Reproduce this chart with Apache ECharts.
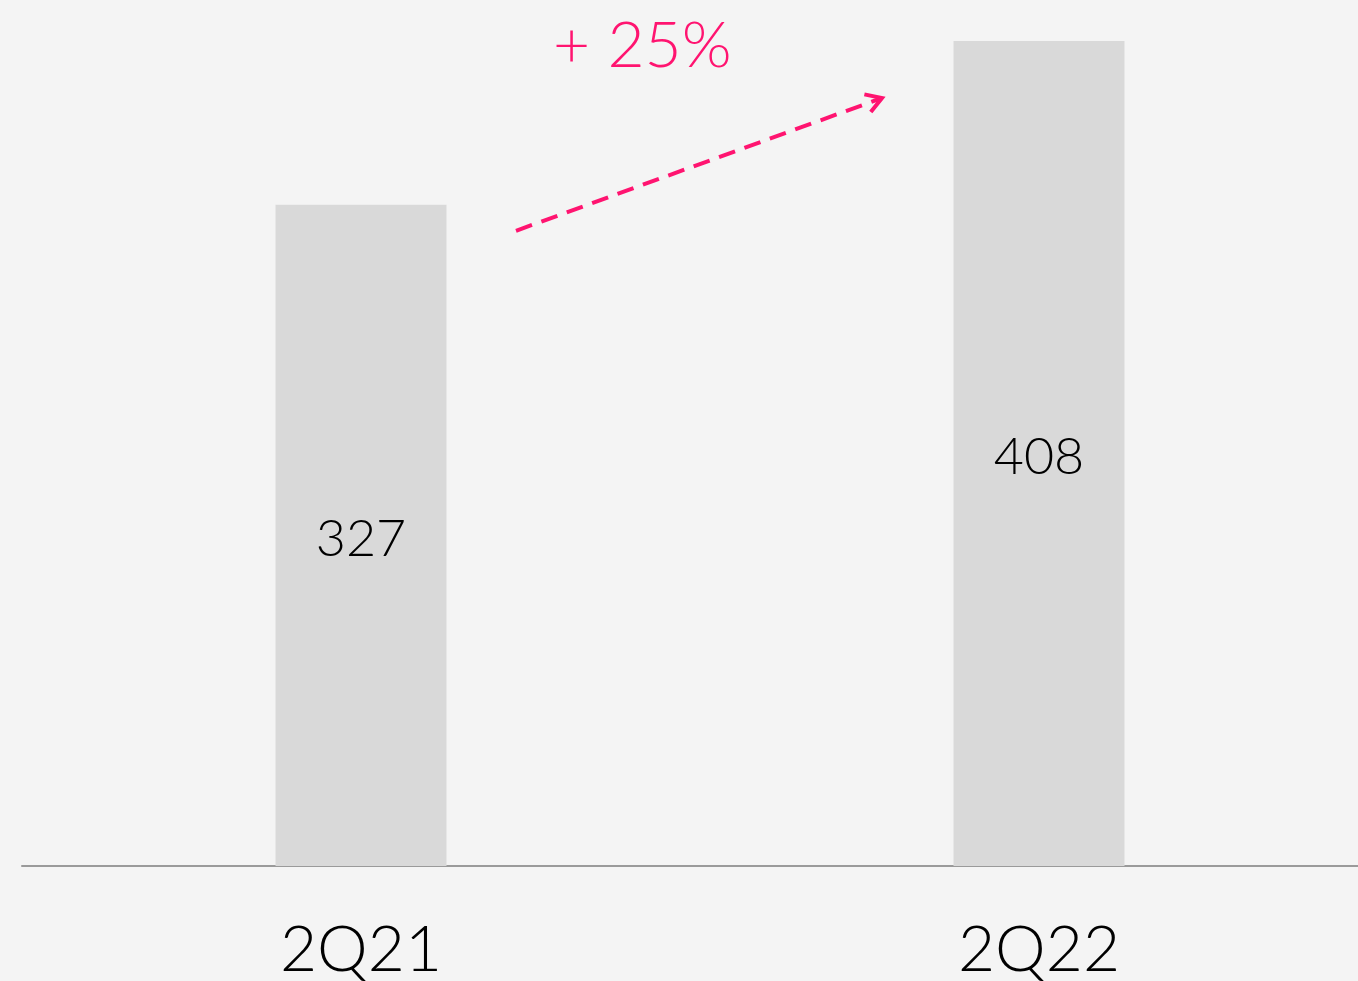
<!DOCTYPE html>
<html>
<head>
<meta charset="utf-8">
<script src="https://cdn.jsdelivr.net/npm/echarts@6/dist/echarts.min.js"></script>
<style>
  html, body { margin: 0; padding: 0; background: #f4f4f4; }
  #chart { width: 1358px; height: 981px; }
</style>
</head>
<body>
<div id="chart"></div>
<script>
// data
var quarters = ['2Q21', '2Q22']
var revenue = [327, 408]
var growthLabel = '+ 25%'

var pink = '#ff1470'

var chart = echarts.init(document.getElementById('chart'))

var option = {
  backgroundColor: '#f4f4f4',
  animation: false,
  grid: {
    left: 22,
    width: 1356,
    top: 41,
    bottom: 115,
    outerBoundsMode: 'none',
    containLabel: false
  },
  xAxis: {
    type: 'category',
    data: quarters,
    axisLine: { lineStyle: { color: '#9a9a9a', width: 2 } },
    axisTick: { show: false },
    axisLabel: {
      color: '#000',
      fontFamily: 'Lato',
      fontWeight: 300,
      fontSize: 64,
      margin: 52
    }
  },
  yAxis: {
    type: 'value',
    min: 0,
    max: 408,
    show: false,
    splitLine: { show: false }
  },
  series: [
    {
      type: 'bar',
      data: revenue,
      barWidth: 171,
      itemStyle: { color: '#d9d9d9' },
      label: {
        show: true,
        position: 'inside',
        offset: [0, 4],
        color: '#000',
        fontFamily: 'Lato',
        fontWeight: 300,
        fontSize: 52
      }
    }
  ]
}

chart.setOption(option)

// growth annotation: dashed arrow between the bars + percentage text
var a = chart.convertToPixel({ seriesIndex: 0 }, [0, revenue[0]])
var b = chart.convertToPixel({ seriesIndex: 0 }, [1, revenue[1]])
var x1 = a[0] + 155, y1 = a[1] + 26
var x2 = b[0] - 157, y2 = b[1] + 57
var ang = Math.atan2(y2 - y1, x2 - x1)
var hl = 18
chart.setOption({
  graphic: [
    {
      type: 'line',
      shape: { x1: x1, y1: y1, x2: x2, y2: y2 },
      style: { stroke: pink, lineWidth: 4, lineDash: [17, 10] }
    },
    {
      type: 'polyline',
      shape: {
        points: [
          [x2 + hl * Math.cos(ang + Math.PI - 0.55), y2 + hl * Math.sin(ang + Math.PI - 0.55)],
          [x2, y2],
          [x2 + hl * Math.cos(ang + Math.PI + 0.55), y2 + hl * Math.sin(ang + Math.PI + 0.55)]
        ]
      },
      style: { stroke: pink, lineWidth: 4, fill: null }
    },
    {
      type: 'text',
      left: 553,
      top: 14,
      style: {
        text: growthLabel,
        fill: pink,
        font: '300 64px Lato'
      }
    }
  ]
})
</script>
</body>
</html>
